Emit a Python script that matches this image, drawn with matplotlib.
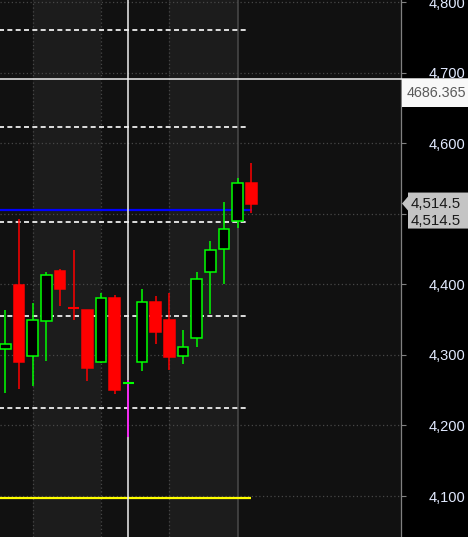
import matplotlib.pyplot as plt
from matplotlib.patches import Rectangle, Polygon
from matplotlib.transforms import IdentityTransform, blended_transform_factory

# candle data
opens = [4308.0, 4399.0, 4298.9, 4348.5, 4418.9, 4366.0, 4363.6, 4289.5, 4380.7, 4260.6,
         4289.5, 4374.6, 4349.0, 4298.9, 4324.4, 4417.1, 4449.7, 4489.4, 4543.2]
highs = [4363.6, 4492.6, 4373.0, 4417.5, 4421.7, 4448.7, 4363.6, 4387.3, 4384.5, 4265.0,
         4393.4, 4383.5, 4387.3, 4335.3, 4417.5, 4461.4, 4516.7, 4550.3, 4571.6]
lows = [4245.6, 4251.2, 4256.0, 4291.8, 4369.7, 4349.5, 4263.4, 4288.1, 4245.0, 4184.0,
        4277.6, 4315.9, 4278.6, 4287.5, 4311.6, 4358.0, 4400.9, 4480.3, 4500.7]
closes = [4315.0, 4290.4, 4349.0, 4412.8, 4393.8, 4366.0, 4281.9, 4380.2, 4250.7, 4260.6,
          4374.6, 4332.9, 4297.0, 4310.8, 4407.2, 4448.3, 4478.0, 4543.2, 4514.5]
down_doji = [5]          # doji drawn in red
cursor_bar = 9           # bar under the crosshair, wick in magenta

dashed_levels = [4760.0, 4622.6, 4488.0, 4354.7, 4224.3]
blue_level = 4505.0
yellow_level = 4096.6
cursor_price = 4691.0
cursor_label = "4686.365"
last_price = 4514.5
yticks = [4100, 4200, 4300, 4400, 4500, 4600, 4700, 4800]
ytick_labels = ["4,100", "4,200", "4,300", "4,400", "", "4,600", "4,700", "4,800"]
grid_bars = [2, 7, 12]
session_bar = 17

UP = '#00ff00'
DOWN = '#ff0000'

fig = plt.figure(figsize=(4.68, 5.37), dpi=100, facecolor='black')
ax = fig.add_axes([0, 0, 401 / 468, 1])
ax.set_facecolor('#111111')
ax.set_xlim(-0.39, 28.95)
ax.set_ylim(4041.9, 4803.0)

# alternating background bands
ax.axvspan(grid_bars[0], grid_bars[1], color='#1c1c1c', zorder=0, lw=0)
ax.axvspan(grid_bars[2], session_bar, color='#1c1c1c', zorder=0, lw=0)

for g in grid_bars:
    ax.axvline(g, color='#474747', lw=0.9, ls=(0, (1, 2)), zorder=1)
ax.axvline(session_bar, color='#4a4a4a', lw=1.1, zorder=1)
for t in yticks:
    ax.axhline(t, color='#474747', lw=0.9, ls=(0, (1, 2)), zorder=1)

# level lines
for lv in dashed_levels:
    ax.hlines(lv, -1, 17.85, color='white', lw=1.2, ls=(0, (3, 2)), zorder=2)
ax.hlines(blue_level, -1, 18.05, color='#0000ff', lw=1.6, zorder=2)
ax.hlines(yellow_level, -1, 18.0, color='#ffff00', lw=1.6, zorder=2)

# crosshair
ax.axvline(cursor_bar, color='#f0f0f0', lw=1.1, zorder=3)
ax.axhline(cursor_price, xmin=0, xmax=468 / 401, color='#f0f0f0', lw=1.1,
           zorder=3, clip_on=False)

# candles
w = 0.76
for i in range(len(opens)):
    o, h, l, c = opens[i], highs[i], lows[i], closes[i]
    up = c > o or (c == o and i not in down_doji)
    col = UP if up else DOWN
    wick_col = '#ff00ff' if i == cursor_bar else col
    ax.vlines(i, l, h, color=wick_col, lw=1.1, zorder=4)
    if c == o:
        ax.hlines(o, i - w / 2, i + w / 2, color=col, lw=1.5, zorder=5)
    elif up:
        ax.add_patch(Rectangle((i - w / 2, o), w, c - o, facecolor='black',
                               edgecolor=col, lw=1.1, zorder=5))
    else:
        ax.add_patch(Rectangle((i - w / 2, c), w, o - c, facecolor=col,
                               edgecolor=col, lw=1.1, zorder=5))

# right axis
ax.yaxis.tick_right()
ax.set_yticks(yticks)
ax.set_yticklabels(ytick_labels)
ax.set_xticks([])
ax.tick_params(axis='y', colors='#808080', length=3.5, width=0.8, pad=43,
               labelcolor='#e2eaff', labelsize=10.5)
for lab in ax.get_yticklabels():
    lab.set_horizontalalignment('right')
    lab.set_fontfamily('Liberation Sans')
for s in ['top', 'left', 'bottom']:
    ax.spines[s].set_visible(False)
ax.spines['right'].set_color('#808080')
ax.spines['right'].set_linewidth(0.9)

# cursor price box
bt = blended_transform_factory(ax.transAxes, ax.transData)
ax.add_patch(Rectangle((1.0025, cursor_price - 40), 0.2, 40, transform=bt,
                       facecolor='#f8f8f8', edgecolor='none', clip_on=False, zorder=6))
ax.text(1.015, cursor_price - 20, cursor_label, transform=bt, ha='left', va='center',
        fontsize=10.3, color='#5a5a5a', family='Liberation Sans', clip_on=False, zorder=7)

# last price tag with arrow (pixel coordinates)
yd = ax.transData.transform((0, last_price))[1]
tag = Polygon([(402, yd), (408, yd + 7), (408, yd + 11), (468, yd + 11),
               (468, yd - 25), (408, yd - 25), (408, yd - 7)], closed=True,
              transform=IdentityTransform(), facecolor='#c4c4c4', edgecolor='none',
              clip_on=False, zorder=6)
ax.add_patch(tag)
ax.text(1.023, last_price, f"{last_price:,.1f}", transform=bt, ha='left', va='center',
        fontsize=10.8, color='#1a1a1a', family='Liberation Sans', clip_on=False, zorder=7)
ax.text(1.023, last_price - 25, f"{last_price:,.1f}", transform=bt, ha='left', va='center',
        fontsize=10.8, color='#1a1a1a', family='Liberation Sans', clip_on=False, zorder=7)

fig.savefig('out.png', dpi=100, facecolor='black')
